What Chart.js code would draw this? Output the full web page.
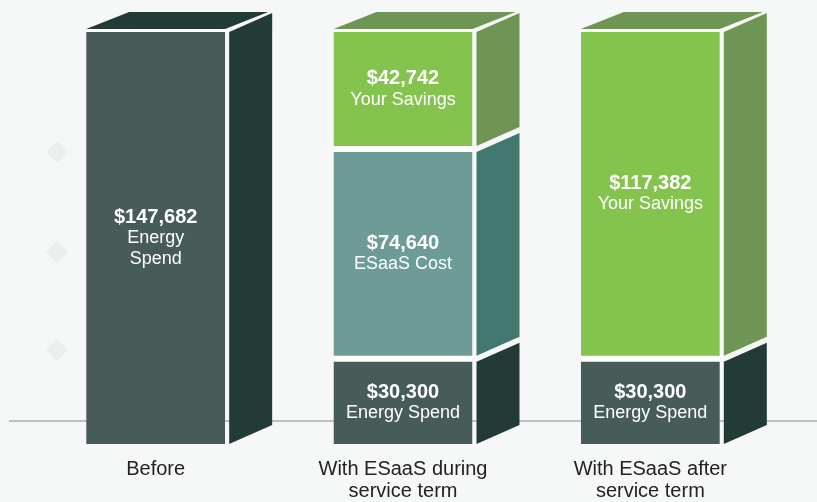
<!DOCTYPE html>
<html>
<head>
<meta charset="utf-8">
<script src="https://cdn.jsdelivr.net/npm/chart.js@4.4.1/dist/chart.umd.min.js"></script>
<style>
  html, body { margin: 0; padding: 0; background: #f6f7f7; }
  #wrap { position: relative; width: 817px; height: 502px; }
</style>
</head>
<body>
<div id="wrap"><canvas id="savingsChart"></canvas></div>
<script>
// categories
const categories = ['Before', ['With ESaaS during', 'service term'], ['With ESaaS after', 'service term']];

// series values (null = no segment)
const energySpend = [147682, 30300, 30300];
const esaasCost = [null, 74640, null];
const yourSavings = [null, 42742, 117382];

// text shown inside each segment, per bar
const energyNames = [['Energy', 'Spend'], ['Energy Spend'], ['Energy Spend']];
const esaasNames = [[], ['ESaaS Cost'], []];
const savingsNames = [[], ['Your Savings'], ['Your Savings']];

const totalSpend = 147682;

function formatCurrency(amount) {
    return '$' + amount.toString().replace(/\B(?=(\d{3})+(?!\d))/g, ',');
}

// 3d look: side faces, top face and text inside each segment
const depthX = 43, depthY = 19, gap = 3;

const cubePlugin = {
    id: 'cube',
    beforeDraw(chart) {
        const ctx = chart.ctx;
        ctx.save();
        ctx.fillStyle = '#eaeeec';
        [[57, 152], [57, 252], [57, 350]].forEach(p => {
            ctx.beginPath();
            ctx.moveTo(p[0], p[1] - 11);
            ctx.lineTo(p[0] + 11, p[1]);
            ctx.lineTo(p[0], p[1] + 11);
            ctx.lineTo(p[0] - 11, p[1]);
            ctx.closePath();
            ctx.fill();
        });
        // baseline behind the bars
        const area = chart.chartArea;
        ctx.strokeStyle = '#7b8f99';
        ctx.lineWidth = 1.2;
        ctx.beginPath();
        ctx.moveTo(9, area.bottom - 23);
        ctx.lineTo(chart.width, area.bottom - 23);
        ctx.stroke();
        ctx.restore();
    },
    afterDatasetsDraw(chart) {
        const ctx = chart.ctx;
        ctx.save();
        const topMost = {};
        chart.data.datasets.forEach((ds, di) => {
            const meta = chart.getDatasetMeta(di);
            meta.data.forEach((el, i) => {
                if (ds.data[i] === null) return;
                const left = el.x - el.width / 2;
                const right = el.x + el.width / 2;
                const top = el.y + (ds.borderWidth.top || 0);
                const bottom = el.base - (ds.borderWidth.bottom || 0);
                // side face
                ctx.fillStyle = ds.sideColor;
                ctx.beginPath();
                ctx.moveTo(right + gap + 1, top);
                ctx.lineTo(right + gap + 1 + depthX, top - depthY);
                ctx.lineTo(right + gap + 1 + depthX, bottom - depthY);
                ctx.lineTo(right + gap + 1, bottom);
                ctx.closePath();
                ctx.fill();
                if (!topMost[i] || el.y < topMost[i].top) {
                    topMost[i] = { top: top, left: left, right: right, color: ds.sideColor };
                }
                // text
                const lines = ds.names[i];
                const cy = (top + bottom) / 2;
                const n = lines.length + 1;
                let y = cy - (n - 1) * 21 / 2;
                ctx.fillStyle = '#ffffff';
                ctx.textAlign = 'center';
                ctx.textBaseline = 'middle';
                ctx.font = 'bold 20px "Liberation Sans", Arial, sans-serif';
                ctx.fillText(formatCurrency(ds.data[i]), el.x, y);
                ctx.font = '18px "Liberation Sans", Arial, sans-serif';
                lines.forEach(line => {
                    y += 21;
                    ctx.fillText(line, el.x, y);
                });
            });
        });
        // top face on the highest segment
        Object.values(topMost).forEach(t => {
            const y0 = t.top - gap;
            ctx.fillStyle = t.color;
            ctx.beginPath();
            ctx.moveTo(t.left, y0);
            ctx.lineTo(t.left + depthX, y0 - depthY + 2);
            ctx.lineTo(t.right + depthX, y0 - depthY + 2);
            ctx.lineTo(t.right, y0);
            ctx.closePath();
            ctx.fill();
        });
        ctx.restore();
    }
};

const ctx = document.getElementById('savingsChart').getContext('2d');
const savingsChart = new Chart(ctx, {
    type: 'bar',
    data: {
        labels: categories,
        datasets: [{
            label: 'Energy Spend',
            data: energySpend,
            names: energyNames,
            backgroundColor: '#475b58',
            sideColor: '#233b36',
            borderColor: '#ffffff',
            borderWidth: { top: 3, bottom: 0, left: 0, right: 0 },
            borderSkipped: false
        }, {
            label: 'ESaaS Cost',
            data: esaasCost,
            names: esaasNames,
            backgroundColor: '#6d9b96',
            sideColor: '#41786f',
            borderColor: '#ffffff',
            borderWidth: { top: 3, bottom: 3, left: 0, right: 0 },
            borderSkipped: false
        }, {
            label: 'Your Savings',
            data: yourSavings,
            names: savingsNames,
            backgroundColor: '#85c34f',
            sideColor: '#6e9553',
            borderColor: '#ffffff',
            borderWidth: { top: 3, bottom: 3, left: 0, right: 0 },
            borderSkipped: false
        }]
    },
    options: {
        responsive: true,
        maintainAspectRatio: false,
        animation: false,
        layout: {
            padding: { top: 29, bottom: 4, left: 32, right: 43 }
        },
        datasets: {
            bar: { barPercentage: 0.562, categoryPercentage: 1 }
        },
        scales: {
            x: {
                stacked: true,
                grid: { display: false },
                border: { display: false },
                afterFit: function(scale) {
                    scale.height = 54;
                },
                ticks: {
                    color: '#222222',
                    padding: 7,
                    maxRotation: 0,
                    autoSkip: false,
                    font: { family: '"Liberation Sans", Arial, sans-serif', size: 20, lineHeight: 1.08 }
                }
            },
            y: {
                stacked: true,
                display: false,
                min: 0,
                max: totalSpend
            }
        },
        plugins: {
            legend: { display: false },
            tooltip: { enabled: false }
        }
    },
    plugins: [cubePlugin]
});
</script>
</body>
</html>
